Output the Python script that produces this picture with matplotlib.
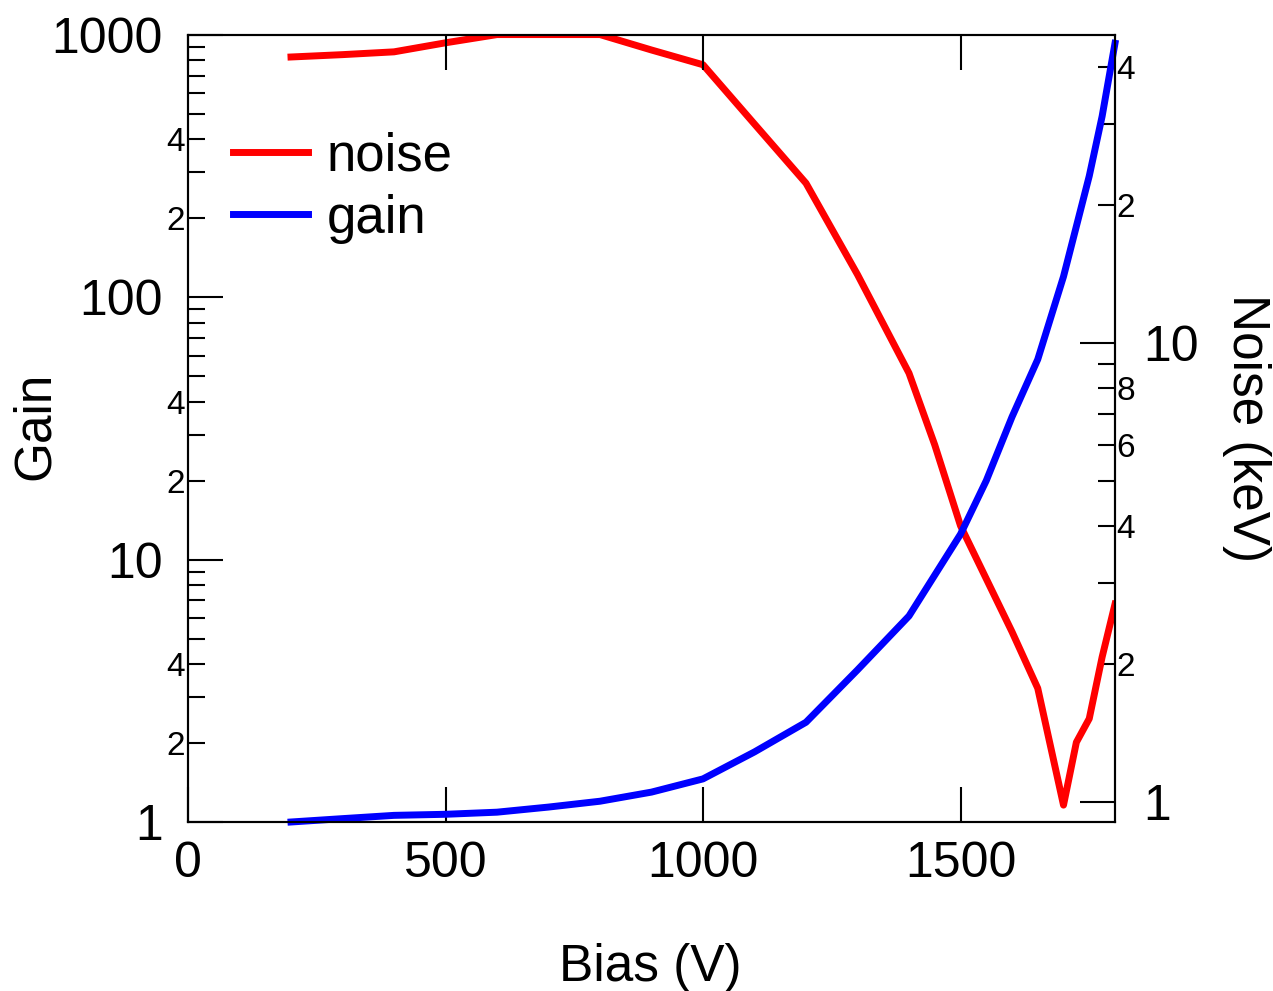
import numpy as np
import matplotlib
matplotlib.use('Agg')
import matplotlib.pyplot as plt
from matplotlib.ticker import FixedLocator, FixedFormatter, FuncFormatter

plt.rcParams['font.family'] = ['Liberation Sans', 'DejaVu Sans']

# gain vs bias (left axis)
bias_gain = [200, 300, 400, 500, 600, 700, 800, 900, 1000, 1100, 1200, 1300,
             1400, 1500, 1550, 1600, 1650, 1700, 1750, 1775, 1800]
gain = [1.00, 1.03, 1.06, 1.07, 1.09, 1.14, 1.20, 1.30, 1.46, 1.85, 2.40, 3.80,
        6.1, 12.5, 20, 35, 58, 120, 290, 490, 930]

# noise vs bias (right axis, keV)
bias_noise = [200, 300, 400, 500, 600, 700, 800, 900, 1000, 1100, 1200, 1300,
              1400, 1450, 1500, 1600, 1650, 1700, 1725, 1750, 1775, 1800]
noise = [42.0, 42.5, 43.1, 45.1, 47.0, 47.0, 47.0, 43.5, 40.4, 30.0, 22.3, 14.1,
         8.6, 6.0, 4.0, 2.35, 1.77, 0.985, 1.35, 1.52, 2.07, 2.7]

gain_major = [1, 10, 100, 1000]
noise_major = [1, 10]


def minor_label(keep):
    # label only some of the minor ticks with their leading digit
    def fmt(v, pos):
        d = int(round(v / 10 ** np.floor(np.log10(v) + 1e-9)))
        return str(d) if d in keep else ''
    return fmt


fig = plt.figure(figsize=(12.73, 9.91), dpi=100)
ax = fig.add_axes([188 / 1273, 1 - 822 / 991, 927 / 1273, 787 / 991])
ax2 = ax.twinx()

ln_noise, = ax2.plot(bias_noise, noise, color='#ff0000', lw=5, label='noise')
ln_gain, = ax.plot(bias_gain, gain, color='#0000ff', lw=5, label='gain', clip_on=False)
ax.set_zorder(ax2.get_zorder() + 1)
ax.patch.set_visible(False)

ax.set_xlim(0, 1800)
ax.xaxis.set_major_locator(FixedLocator([0, 500, 1000, 1500]))
ax.tick_params(axis='x', direction='in', length=25, width=1.5, labelsize=36,
               top=True, pad=14)

ax.set_yscale('log')
ax.set_ylim(1, 1000)
ax.yaxis.set_major_locator(FixedLocator(gain_major))
ax.yaxis.set_major_formatter(FixedFormatter([str(v) for v in gain_major]))
ax.yaxis.set_minor_locator(FixedLocator([m * d for d in [1, 10, 100] for m in range(2, 10)]))
ax.yaxis.set_minor_formatter(FuncFormatter(minor_label([2, 4])))
ax.tick_params(axis='y', which='major', direction='in', length=25, width=1.5,
               labelsize=36, pad=18)
ax.tick_params(axis='y', which='minor', direction='in', length=12, width=1.5,
               labelsize=24, pad=2)

ax2.set_yscale('log')
ax2.set_ylim(0.905, 46.9)
ax2.yaxis.set_major_locator(FixedLocator(noise_major))
ax2.yaxis.set_major_formatter(FixedFormatter([str(v) for v in noise_major]))
ax2.yaxis.set_minor_locator(FixedLocator(list(range(2, 10)) + [20, 30, 40]))
ax2.yaxis.set_minor_formatter(FuncFormatter(minor_label([2, 4, 6, 8])))
ax2.tick_params(axis='y', which='major', direction='in', length=25, width=1.5,
                labelsize=36, pad=20)
ax2.tick_params(axis='y', which='minor', direction='in', length=12, width=1.5,
                labelsize=24, pad=1)

for a in (ax, ax2):
    for s in a.spines.values():
        s.set_linewidth(1.5)

fig.text(35 / 1273, 1 - 426 / 991, 'Gain', rotation=90, ha='center', va='center', fontsize=37)
fig.text(1247 / 1273, 1 - 428 / 991, 'Noise (keV)', rotation=270, ha='center', va='center', fontsize=37)
fig.text(650 / 1273, 1 - 967 / 991, 'Bias (V)', ha='center', va='center', fontsize=37)

ax.legend([ln_noise, ln_gain], ['noise', 'gain'], loc='upper left',
          bbox_to_anchor=(0.0485, 0.877), frameon=False, fontsize=38,
          borderpad=0, borderaxespad=0, handlelength=1.42, handletextpad=0.36,
          labelspacing=0.23)

fig.savefig('out.png', dpi=100)
